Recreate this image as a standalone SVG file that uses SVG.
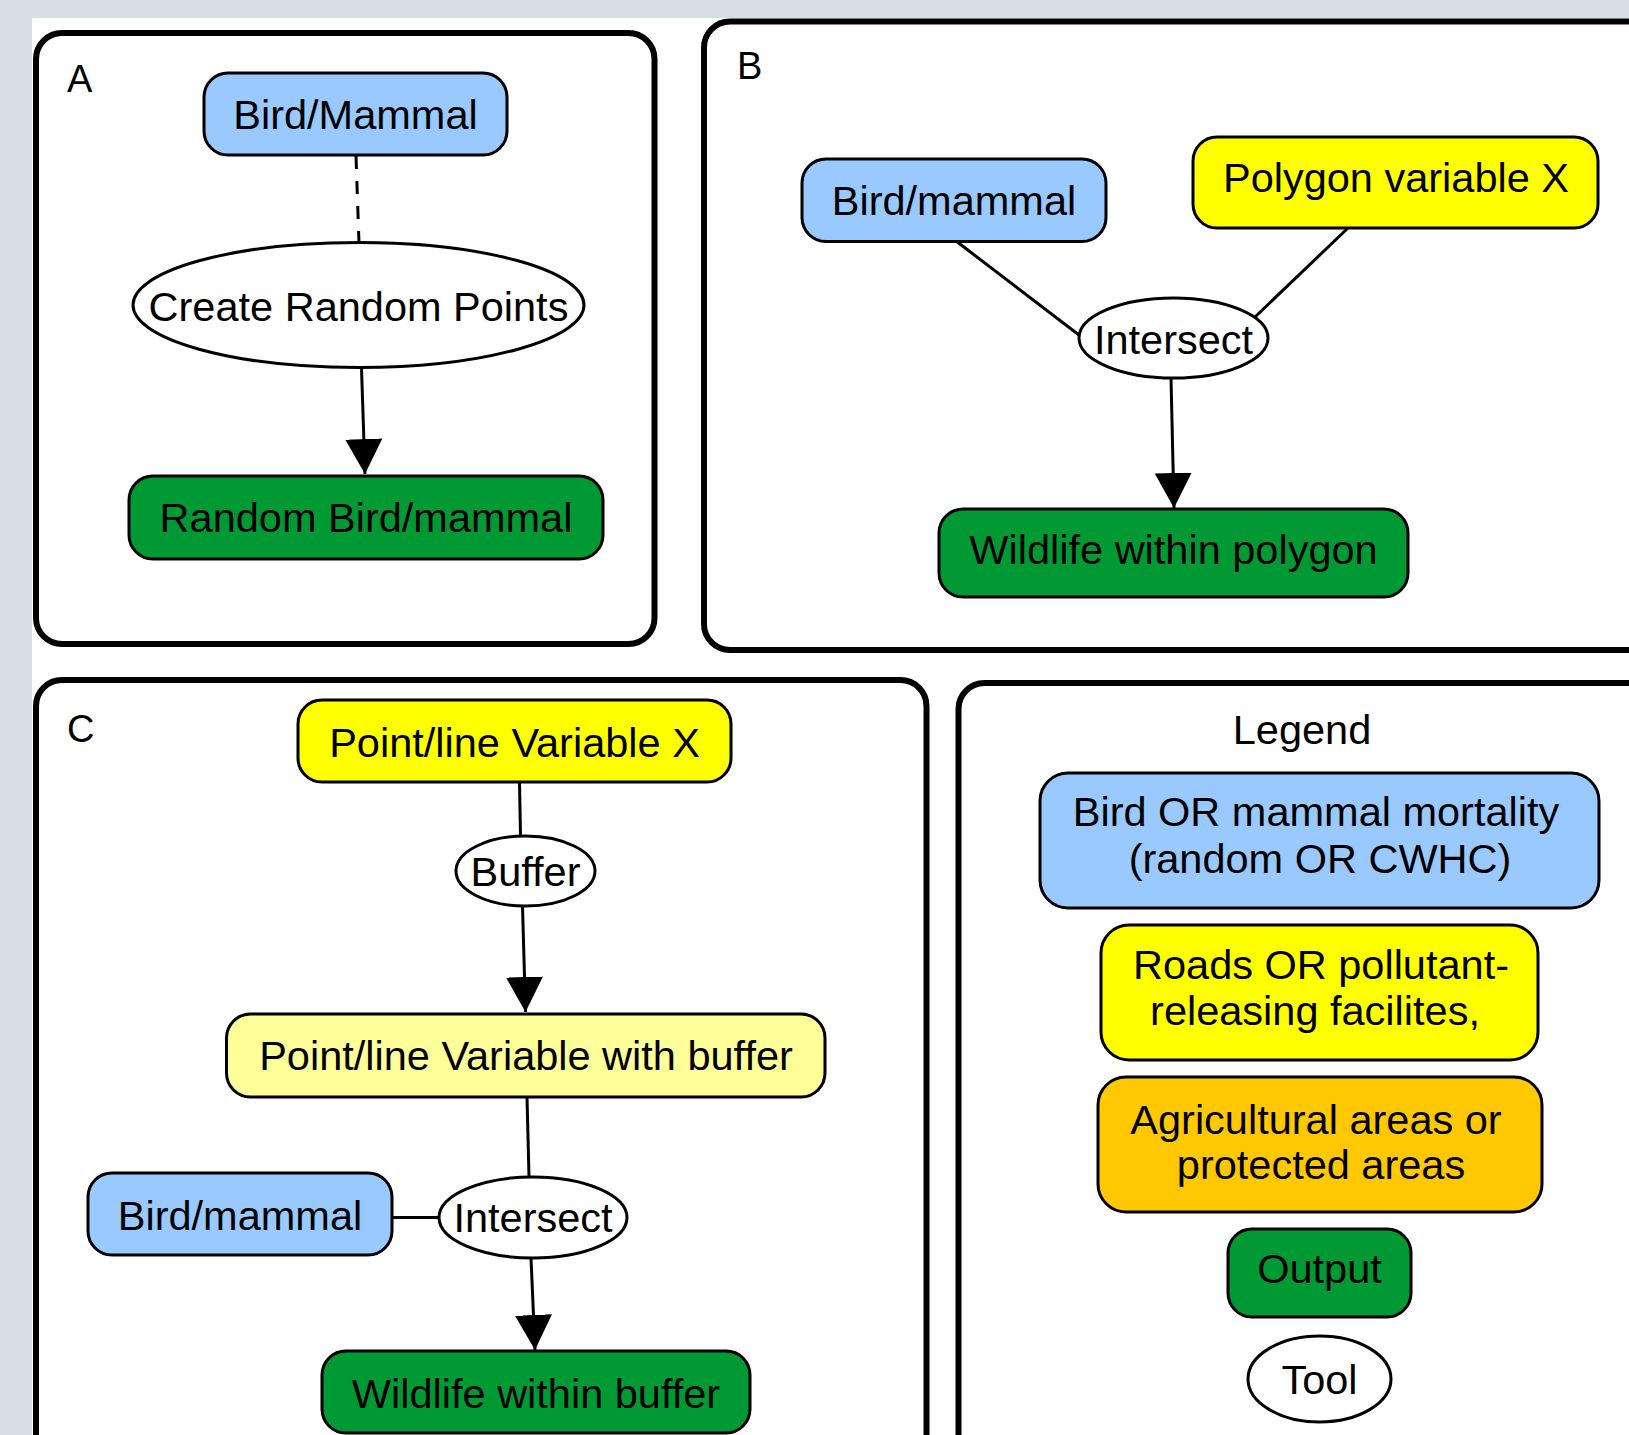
<svg xmlns="http://www.w3.org/2000/svg" width="1629" height="1435" viewBox="0 0 1629 1435">
<defs>
<style>
.panel{fill:#fff;stroke:#000;stroke-width:6}
.node{stroke:#000;stroke-width:3}
.blue{fill:#99c9ff}
.yellow{fill:#ffff00}
.lyellow{fill:#ffff99}
.orange{fill:#ffc800}
.green{fill:#009933}
.tool{fill:#fff;stroke:#000;stroke-width:3}
.t{font-family:"Liberation Sans",Arial,sans-serif;font-size:41.5px;fill:#000;text-anchor:middle}
.lbl{font-family:"Liberation Sans",Arial,sans-serif;font-size:38px;fill:#000}
.edge{stroke:#000;stroke-width:3;fill:none}
.dash{stroke-dasharray:13 12}
</style>
<marker id="arr" viewBox="0 0 35 37" refX="35" refY="18.5" markerWidth="35" markerHeight="37" markerUnits="userSpaceOnUse" orient="auto">
<path d="M0,0 L35,18.5 L0,37 z" fill="#000"/>
</marker>
</defs>
<rect x="0" y="0" width="1629" height="1435" fill="#fff"/>
<rect x="0" y="0" width="1629" height="18" fill="#d6dde7"/>
<rect x="0" y="0" width="32" height="1435" fill="#d6dde7"/>

<g id="panelA">
<rect class="panel" x="36" y="33" width="618.5" height="611" rx="26"/>
<text class="lbl" x="67" y="92">A</text>
</g>
<g id="panelB">
<rect class="panel" x="704" y="21.5" width="960" height="628.5" rx="26"/>
<text class="lbl" x="737" y="79">B</text>
</g>
<g id="panelC">
<rect class="panel" x="36" y="680" width="890.5" height="800" rx="26"/>
<text class="lbl" x="67" y="742">C</text>
</g>
<g id="panelLegend">
<rect class="panel" x="958.5" y="683" width="720" height="800" rx="26"/>
<text class="t" x="1302" y="744">Legend</text>
</g>

<g id="connectors">
<line class="edge dash" x1="356" y1="156" x2="359" y2="243"/>
<line class="edge" x1="361.5" y1="368" x2="365" y2="474" marker-end="url(#arr)"/>
<line class="edge" x1="956" y1="241" x2="1079" y2="335"/>
<line class="edge" x1="1348" y1="228" x2="1255" y2="317"/>
<line class="edge" x1="1171" y1="378" x2="1174" y2="508" marker-end="url(#arr)"/>
<line class="edge" x1="519.5" y1="782" x2="520.5" y2="836"/>
<line class="edge" x1="522.5" y1="906" x2="525.5" y2="1012" marker-end="url(#arr)"/>
<line class="edge" x1="527" y1="1097" x2="529" y2="1177"/>
<line class="edge" x1="392" y1="1217.5" x2="439" y2="1217.5"/>
<line class="edge" x1="531" y1="1258" x2="535" y2="1350" marker-end="url(#arr)"/>
</g>

<g id="A_bird">
<rect class="node blue" x="204" y="73" width="303" height="82" rx="24"/>
<text class="t" x="355.5" y="129">Bird/Mammal</text>
</g>
<g id="A_create">
<ellipse class="tool" cx="358.5" cy="305" rx="225.5" ry="62.5"/>
<text class="t" x="358.5" y="321">Create Random Points</text>
</g>
<g id="A_random">
<rect class="node green" x="129" y="476" width="474" height="83" rx="24"/>
<text class="t" x="366" y="532">Random Bird/mammal</text>
</g>

<g id="B_bird">
<rect class="node blue" x="802" y="159" width="304" height="82.5" rx="24"/>
<text class="t" x="954" y="215">Bird/mammal</text>
</g>
<g id="B_polygon">
<rect class="node yellow" x="1193" y="137" width="405" height="91" rx="24"/>
<text class="t" x="1396" y="192">Polygon variable X</text>
</g>
<g id="B_intersect">
<ellipse class="tool" cx="1173.5" cy="338" rx="94.5" ry="40"/>
<text class="t" x="1173.5" y="354">Intersect</text>
</g>
<g id="B_wildlife">
<rect class="node green" x="939" y="509" width="469" height="88" rx="24"/>
<text class="t" x="1173.5" y="564">Wildlife within polygon</text>
</g>

<g id="C_point">
<rect class="node yellow" x="298" y="700" width="433" height="82" rx="24"/>
<text class="t" x="514.5" y="757">Point/line Variable X</text>
</g>
<g id="C_buffer">
<ellipse class="tool" cx="525.5" cy="871" rx="69.5" ry="35"/>
<text class="t" x="525.5" y="886">Buffer</text>
</g>
<g id="C_pointbuf">
<rect class="node lyellow" x="226.5" y="1014" width="598.5" height="83" rx="24"/>
<text class="t" x="526" y="1070">Point/line Variable with buffer</text>
</g>
<g id="C_bird">
<rect class="node blue" x="88" y="1173" width="304" height="82" rx="24"/>
<text class="t" x="240" y="1230">Bird/mammal</text>
</g>
<g id="C_intersect">
<ellipse class="tool" cx="533" cy="1217.5" rx="94" ry="40.5"/>
<text class="t" x="533" y="1232">Intersect</text>
</g>
<g id="C_wildlife">
<rect class="node green" x="322" y="1351" width="428" height="82" rx="24"/>
<text class="t" x="536" y="1408">Wildlife within buffer</text>
</g>

<g id="L_bird">
<rect class="node blue" x="1040" y="773" width="559" height="135" rx="28"/>
<text class="t" x="1316" y="826">Bird OR mammal mortality</text>
<text class="t" x="1320" y="873">(random OR CWHC)</text>
</g>
<g id="L_roads">
<rect class="node yellow" x="1101" y="925" width="437" height="135" rx="28"/>
<text class="t" x="1321" y="979">Roads OR pollutant-</text>
<text class="t" x="1315" y="1025">releasing facilites,</text>
</g>
<g id="L_agri">
<rect class="node orange" x="1098" y="1077" width="444" height="135" rx="28"/>
<text class="t" x="1316" y="1134">Agricultural areas or</text>
<text class="t" x="1321" y="1179">protected areas</text>
</g>
<g id="L_output">
<rect class="node green" x="1228" y="1229" width="183" height="88" rx="24"/>
<text class="t" x="1319.5" y="1283">Output</text>
</g>
<g id="L_tool">
<ellipse class="tool" cx="1319.5" cy="1379" rx="71.5" ry="43"/>
<text class="t" x="1319.5" y="1394">Tool</text>
</g>
</svg>
